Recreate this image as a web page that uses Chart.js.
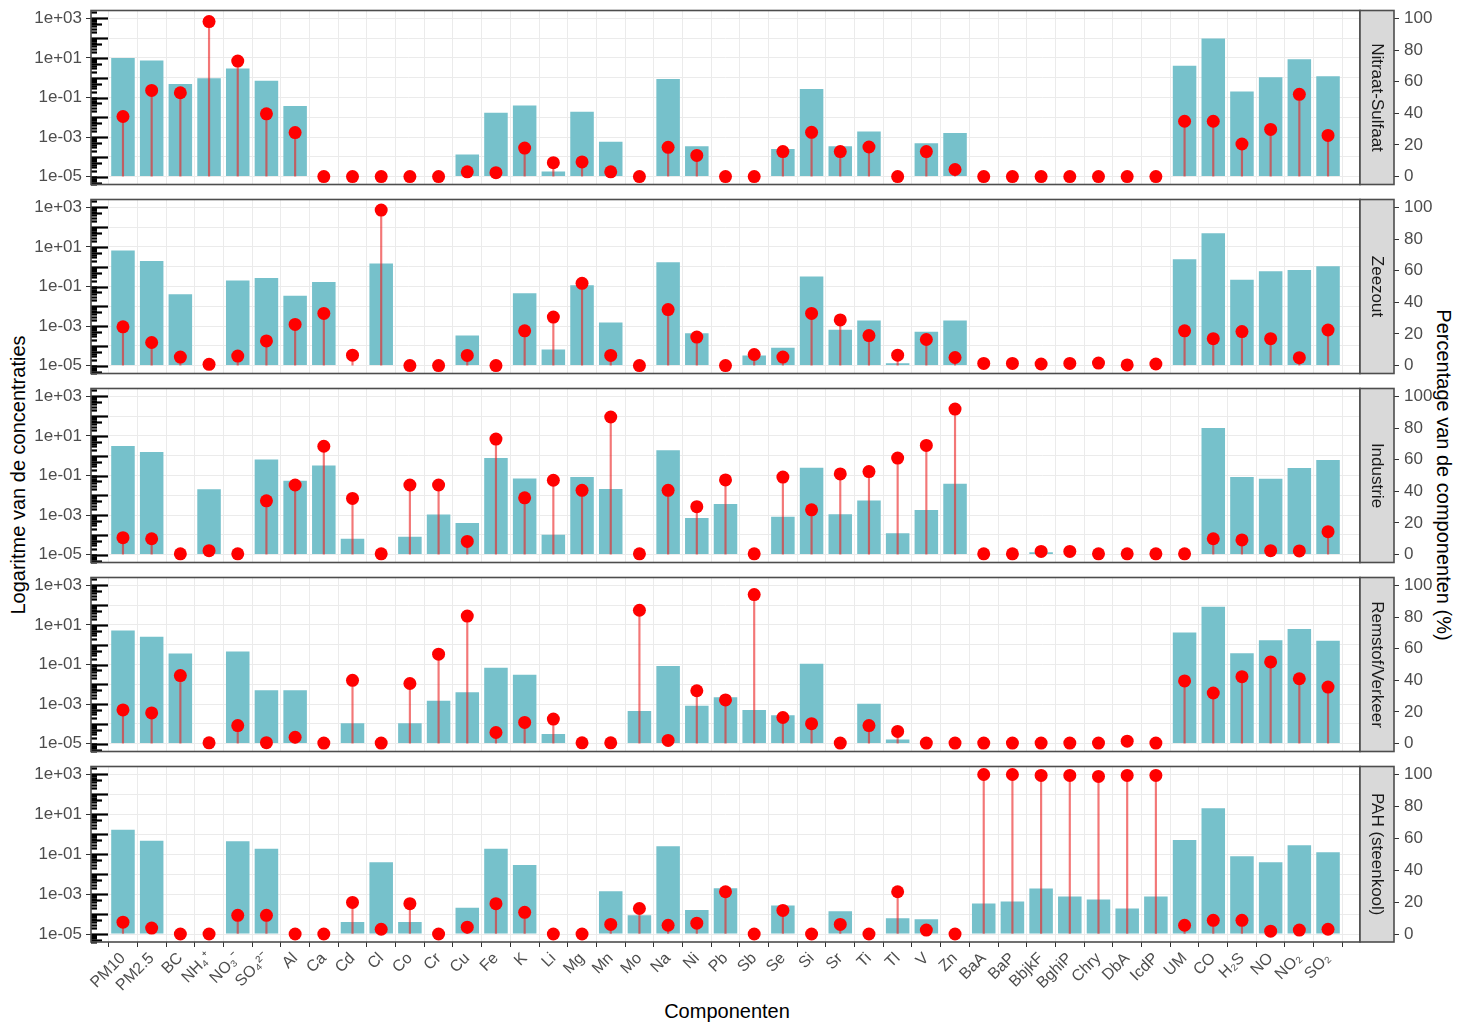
<!DOCTYPE html>
<html>
<head>
<meta charset="utf-8">
<script src="https://cdn.jsdelivr.net/npm/chart.js@4.4.1/dist/chart.umd.min.js"></script>
<style>
  body { margin: 0; background: #fff; width: 1470px; height: 1022px; overflow: hidden; position: relative; font-family: "Liberation Sans", Arial, sans-serif; }
  canvas { position: absolute; left: 0; }
  .title { position: absolute; font-size: 20px; color: #000; white-space: nowrap; transform-origin: center center; }
</style>
</head>
<body>
<div class="title" id="ytitle" style="left:18px;top:475px;transform:translate(-50%,-50%) rotate(-90deg);">Logaritme van de concentraties</div>
<div class="title" id="y2title" style="left:1443px;top:475px;transform:translate(-50%,-50%) rotate(90deg);">Percentage van de componenten (%)</div>
<div class="title" id="xtitle" style="left:727px;top:1011px;transform:translate(-50%,-50%);">Componenten</div>

<script>
// categories (x axis)
const categories = ['PM10','PM2.5','BC','NH₄⁺','NO₃⁻','SO₄²⁻','Al','Ca','Cd','Cl','Co','Cr','Cu','Fe','K','Li','Mg','Mn','Mo','Na','Ni','Pb','Sb','Se','Si','Sr','Ti','Tl','V','Zn','BaA','BaP','BbjkF','BghiP','Chry','DbA','IcdP','UM','CO','H₂S','NO','NO₂','SO₂'];

const panelNames = ['Nitraat-Sulfaat', 'Zeezout', 'Industrie', 'Remstof/Verkeer', 'PAH (steenkool)'];

// log axis decades and percentage ticks
const decades = [-5, -4, -3, -2, -1, 0, 1, 2, 3];
const pctTicks = [0, 20, 40, 60, 80, 100];

// concentrations (bars, log scale) - null = no bar
const nitraatConc = [10, 7.5, 0.48, 0.93, 2.9, 0.7, 0.037, null, null, null, null, null, 1.3e-4, 0.017, 0.039, 1.8e-5, 0.019, 5.8e-4, null, 0.87, 3.4e-4, null, null, 2.5e-4, 0.27, 3.4e-4, 1.9e-3, null, 4.8e-4, 1.6e-3, null, null, null, null, null, null, null, 4, 95, 0.2, 1.05, 8.7, 1.2];
const zeezoutConc = [6.6, 1.95, 0.04, null, 0.2, 0.27, 0.034, 0.17, null, 1.45, null, null, 3.3e-4, null, 0.045, 6.5e-5, 0.115, 1.5e-3, null, 1.7, 4.3e-4, null, 3.2e-5, 7.9e-5, 0.32, 6.5e-4, 1.9e-3, 1.3e-5, 5.2e-4, 1.9e-3, null, null, null, null, null, null, null, 2.4, 49, 0.22, 0.59, 0.68, 1.07];
const industrieConc = [3.1, 1.55, null, 0.02, null, 0.65, 0.055, 0.32, 6.3e-5, null, 8.1e-5, 1.07e-3, 4e-4, 0.76, 0.07, 1e-4, 0.083, 0.021, null, 1.9, 7e-4, 3.6e-3, null, 8.3e-4, 0.25, 1.1e-3, 5.4e-3, 1.2e-4, 1.8e-3, 0.038, null, null, 1.3e-5, null, null, null, null, null, 25, 0.085, 0.068, 0.24, 0.6];
const remstofConc = [5.2, 2.5, 0.36, null, 0.45, 5e-3, 5e-3, null, 1.07e-4, null, 1.07e-4, 1.45e-3, 4e-3, 0.068, 0.03, 3.1e-5, null, null, 4.5e-4, 0.085, 8.3e-4, 2.2e-3, 5e-4, 2.7e-4, 0.11, null, 1.05e-3, 1.6e-5, null, null, null, null, null, null, null, null, null, 4.2, 83, 0.37, 1.7, 6.2, 1.6];
const pahConc = [1.7, 0.47, null, null, 0.45, 0.19, null, null, 4e-5, 0.04, 4e-5, null, 2.1e-4, 0.19, 0.029, null, null, 1.4e-3, 8.7e-5, 0.25, 1.6e-4, 2e-3, null, 2.7e-4, null, 1.4e-4, null, 6.2e-5, 5.5e-5, null, 3.4e-4, 4.3e-4, 1.9e-3, 7.6e-4, 5.4e-4, 1.9e-4, 7.6e-4, 0.52, 20, 0.08, 0.04, 0.28, 0.125];

// percentage contributions (lollipops)
const nitraatPct = [38, 54.5, 53, 98, 73, 39.7, 27.8, 0, 0, 0, 0, 0, 3, 2.5, 18, 8.8, 9.3, 3, 0, 18.5, 13.4, 0, 0, 15.8, 28, 15.8, 18.7, 0, 15.8, 4.5, 0, 0, 0, 0, 0, 0, 0, 35, 35, 20.6, 29.8, 52, 26];
const zeezoutPct = [24.5, 14.6, 5.4, 0.8, 6, 15.6, 26, 33, 6.6, 98.3, 0, 0, 6.4, 0, 22, 30.7, 52, 6.4, 0, 35.4, 18, 0, 7, 5.4, 33, 28.9, 19, 6.6, 16.5, 5.1, 1.4, 1.4, 1, 1.4, 1.6, 0.4, 1, 22, 17, 21.5, 17, 5, 22.5];
const industriePct = [10.7, 10, 0.5, 2.5, 0.5, 34, 44, 68.5, 35.5, 0.5, 44, 44, 8.3, 73, 35.9, 47, 40.6, 87, 0.5, 40.6, 30.3, 47.2, 0.5, 49, 28.3, 51, 52.5, 61, 69, 92, 0.5, 0.5, 2, 2, 0.5, 0.5, 0.5, 0.5, 10, 9.3, 2.5, 2.3, 14.5];
const remstofPct = [21.3, 19.4, 43, 0.5, 11.4, 0.6, 4, 0.3, 40, 0.3, 38, 56.5, 80.6, 7, 13.4, 15.5, 0.5, 0.5, 84.3, 2, 33.4, 27.6, 94.2, 16.5, 12.6, 0.3, 11.4, 7.7, 0.3, 0.3, 0.3, 0.3, 0.3, 0.3, 0.3, 1.5, 0.3, 39.6, 32, 42.3, 51.6, 41, 35.7];
const pahPct = [7.4, 3.7, 0, 0, 11.7, 11.7, 0, 0, 19.8, 3, 19, 0, 4.3, 19, 13.6, 0, 0, 6, 16, 5.5, 6.8, 26.5, 0, 14.8, 0, 6, 0, 26.5, 2.5, 0, 100, 100, 99.4, 99.4, 98.8, 99.4, 99.4, 5.5, 8.6, 8.6, 1.8, 2.5, 3];

const concSets = [nitraatConc, zeezoutConc, industrieConc, remstofConc, pahConc];
const pctSets = [nitraatPct, zeezoutPct, industriePct, remstofPct, pahPct];

Chart.defaults.font.family = '"Liberation Sans", Arial, sans-serif';

const panelTops = [9, 198, 387, 576, 765];
const panelH = 177;

function logLabel(v) {
    const e = Math.round(Math.log10(v));
    if (Math.abs(e) % 2 !== 1) return '';
    return '1e' + (e < 0 ? '-' : '+') + String(Math.abs(e)).padStart(2, '0');
}

// no extra label padding, the panels must line up exactly
function noPad(s) {
    s.paddingTop = 0;
    s.paddingBottom = 0;
    s.paddingLeft = 0;
    s.paddingRight = 0;
}

// panel border, log ticks inside the panel and the facet strip
const panelDeco = {
    id: 'panelDeco',
    afterDatasetsDraw(chart, args, opts) {
        const ctx = chart.ctx;
        const a = chart.chartArea;
        const y = chart.scales.y;
        ctx.save();
        ctx.strokeStyle = '#000';
        ctx.lineWidth = 2.2;
        for (let e = -6; e <= 3; e++) {
            for (let m = 1; m <= 9; m++) {
                const v = m * Math.pow(10, e);
                if (v < y.min || v > y.max) continue;
                const py = Math.round(y.getPixelForValue(v)) + 0.5;
                const len = m === 1 ? 17 : (m === 5 ? 11 : 6);
                ctx.beginPath();
                ctx.moveTo(a.left, py);
                ctx.lineTo(a.left + len, py);
                ctx.stroke();
            }
        }
        ctx.strokeStyle = '#4d4d4d';
        ctx.lineWidth = 1.6;
        ctx.strokeRect(a.left, a.top, a.right - a.left, a.bottom - a.top);

        const s = chart.scales.strip;
        ctx.fillStyle = '#d9d9d9';
        ctx.fillRect(s.left, a.top, s.right - s.left, a.bottom - a.top);
        ctx.strokeRect(s.left, a.top, s.right - s.left, a.bottom - a.top);
        ctx.translate((s.left + s.right) / 2, (a.top + a.bottom) / 2);
        ctx.rotate(Math.PI / 2);
        ctx.fillStyle = '#1a1a1a';
        ctx.font = '17px "Liberation Sans", Arial, sans-serif';
        ctx.textAlign = 'center';
        ctx.textBaseline = 'middle';
        ctx.fillText(opts.name, 0, 0);
        ctx.restore();
    }
};

function makePanel(k) {
    const isBottom = k === 4;
    const top = panelTops[k] - 5;
    const h = isBottom ? 1022 - top : panelH + 10;
    const canvas = document.createElement('canvas');
    canvas.width = 1470;
    canvas.height = h;
    canvas.style.top = top + 'px';
    canvas.style.width = '1470px';
    canvas.style.height = h + 'px';
    document.body.appendChild(canvas);

    const conc = concSets[k];
    const pct = pctSets[k];

    new Chart(canvas.getContext('2d'), {
        type: 'bar',
        data: {
            datasets: [
                {
                    type: 'line',
                    data: pct.map((v, i) => ({ x: i, y: v })),
                    yAxisID: 'y2',
                    showLine: false,
                    pointRadius: 6.5,
                    pointBackgroundColor: '#ff0000',
                    pointBorderWidth: 0,
                    order: 1
                },
                {
                    type: 'bar',
                    data: pct.map((v, i) => ({ x: i, y: [0, v] })),
                    yAxisID: 'y2',
                    backgroundColor: 'rgba(235, 35, 35, 0.62)',
                    barThickness: 1.5,
                    grouped: true,
                    order: 2
                },
                {
                    type: 'bar',
                    data: conc.map((v, i) => ({ x: i, y: v })),
                    yAxisID: 'y',
                    backgroundColor: '#76c1cb',
                    base: 1e-5,
                    grouped: false,
                    barPercentage: 0.82,
                    categoryPercentage: 1,
                    order: 3
                }
            ]
        },
        options: {
            responsive: false,
            animation: false,
            devicePixelRatio: 1,
            events: [],
            layout: { padding: { top: 5, bottom: isBottom ? 0 : 5, left: 0, right: 0 } },
            plugins: {
                legend: { display: false },
                tooltip: { enabled: false },
                panelDeco: { name: panelNames[k] }
            },
            scales: {
                x: {
                    type: 'linear',
                    position: 'bottom',
                    min: -0.6,
                    max: categories.length - 0.4,
                    afterBuildTicks: s => { s.ticks = categories.map((c, i) => ({ value: i })); },
                    afterFit: s => { s.height = isBottom ? h - 5 - panelH : 0; noPad(s); },
                    grid: { color: '#ebebeb', lineWidth: 1, drawTicks: isBottom, tickLength: 5, tickColor: '#333' },
                    border: { display: false },
                    ticks: {
                        display: isBottom,
                        autoSkip: false,
                        maxRotation: 45,
                        minRotation: 45,
                        padding: 2,
                        color: '#4d4d4d',
                        font: { size: 16 },
                        callback: v => categories[v]
                    }
                },
                y: {
                    type: 'logarithmic',
                    position: 'left',
                    min: Math.pow(10, -5.4),
                    max: Math.pow(10, 3.4),
                    afterBuildTicks: s => { s.ticks = decades.map(e => ({ value: Math.pow(10, e) })); },
                    afterFit: s => { s.width = 91; noPad(s); },
                    grid: {
                        color: '#ebebeb',
                        lineWidth: 1,
                        tickLength: 5,
                        tickColor: c => (c.tick && logLabel(c.tick.value) !== '') ? '#333' : 'rgba(0,0,0,0)'
                    },
                    border: { display: false },
                    ticks: { autoSkip: false, padding: 4, color: '#4d4d4d', font: { size: 17 }, callback: v => logLabel(v) }
                },
                strip: {
                    type: 'linear',
                    position: 'right',
                    weight: 1,
                    afterFit: s => { s.width = 34; noPad(s); },
                    grid: { display: false },
                    border: { display: false },
                    ticks: { display: false }
                },
                y2: {
                    type: 'linear',
                    position: 'right',
                    weight: 2,
                    min: -5,
                    max: 105,
                    afterBuildTicks: s => { s.ticks = pctTicks.map(v => ({ value: v })); },
                    afterFit: s => { s.width = 76; noPad(s); },
                    grid: { drawOnChartArea: false, tickLength: 5, tickColor: '#333' },
                    border: { display: false },
                    ticks: { padding: 5, color: '#4d4d4d', font: { size: 17 } }
                }
            }
        },
        plugins: [panelDeco]
    });
}

for (let k = 0; k < 5; k++) makePanel(k);
</script>
</body>
</html>
